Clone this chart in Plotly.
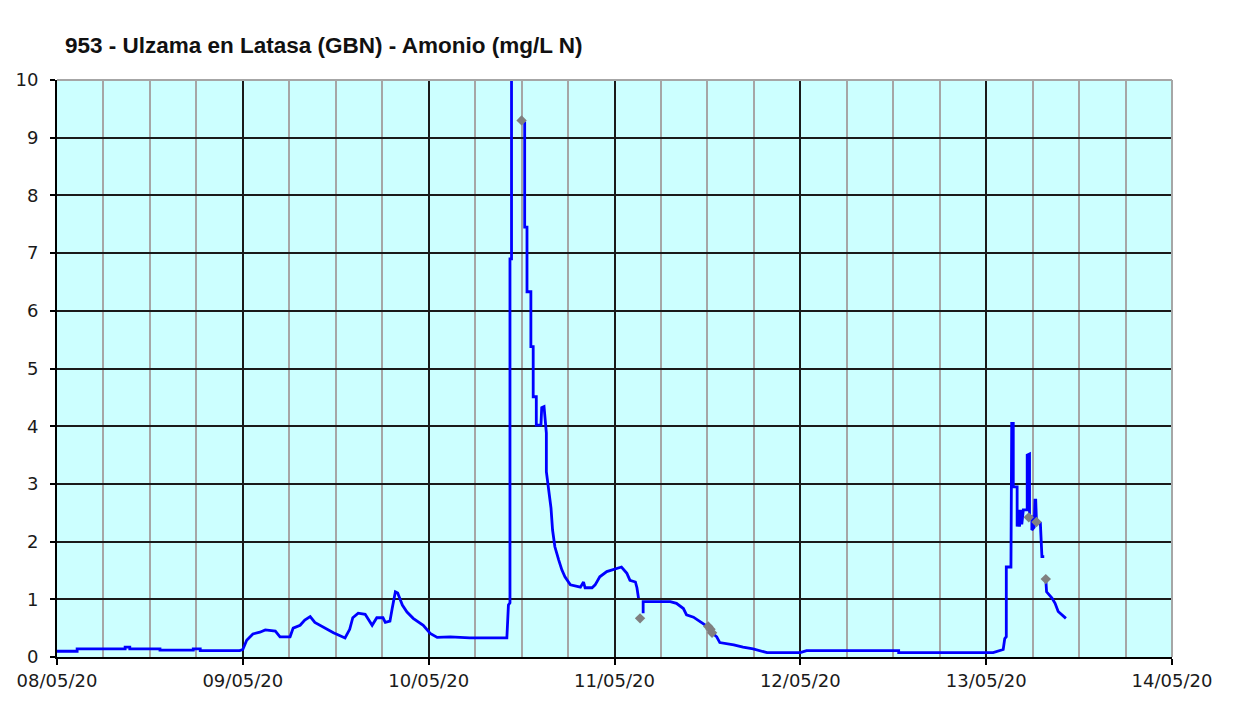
import pandas as pd
import plotly.graph_objects as go

start_date = "2020-05-08"

# Ammonium series (hours since 08/05/20 00:00, mg/L N); None = gap
hours = [
    0, 2.6, 2.6, 8.8, 8.8, 9.4, 9.4, 13.3, 13.3, 17.6, 17.6, 18.5, 18.5, 23.6,
    24.0, 24.5, 25.3, 26.2, 26.9, 28.2, 28.8, 30.1, 30.5, 31.4, 32.0, 32.7, 33.3,
    34.6, 35.7, 37.2, 37.8, 38.2, 38.9, 39.8, 40.7, 41.3, 42.1, 42.4, 43.0, 43.3,
    43.7, 44.0, 44.6, 45.2, 46.0, 47.3, 48.2, 49.1, 50.8, 53.3, 58.1, 58.3, 58.5,
    58.5, 58.7, 58.7, 59.9, None,
    60.4, 60.4, 60.7, 60.7, 61.2, 61.2, 61.5, 61.5, 61.9, 61.9, 62.5, 62.6, 62.9,
    63.2, 63.2, 63.8, 64.0, 64.3, 64.8, 65.2, 65.6, 66.3, 67.6, 68.0, 68.2, 69.1,
    69.5, 70.1, 71.0, 72.3, 72.9, 73.6, 74.0, 74.7, 74.9, 75.1, None,
    75.7, 75.7, 79.2, 80.0, 80.9, 81.3, 82.2, 83.1, 84.1, 84.6, 85.2, 85.6, 87.4,
    88.6, 89.9, 91.7, 96.0, 96.8, 108.7, 108.7, 120.9, 122.2, 122.4, 122.6, 122.6,
    123.2, 123.3, 123.5, 123.5, 124.0, 124.0, 124.2, 124.3, 124.5, 124.6, 124.8,
    125.3, 125.3, 125.6, 125.6, 125.9, 125.9, 126.2, 126.3, 126.4, 126.5, 127.0,
    127.2, 127.5, None,
    127.7, 127.8, 128.5, 128.9, 129.3, 129.8, 130.3,
]
values = [
    0.10, 0.10, 0.14, 0.14, 0.17, 0.17, 0.14, 0.14, 0.12, 0.12, 0.14, 0.14, 0.11, 0.11,
    0.13, 0.29, 0.40, 0.43, 0.47, 0.45, 0.35, 0.35, 0.50, 0.55, 0.64, 0.70, 0.60,
    0.50, 0.42, 0.33, 0.48, 0.68, 0.76, 0.74, 0.55, 0.68, 0.68, 0.60, 0.62, 0.85,
    1.13, 1.11, 0.90, 0.78, 0.67, 0.55, 0.41, 0.34, 0.35, 0.33, 0.33, 0.90, 0.94,
    6.90, 6.90, 10.05, 10.05, None,
    9.28, 7.45, 7.45, 6.33, 6.33, 5.38, 5.38, 4.51, 4.51, 4.02, 4.02, 4.32, 4.34,
    3.88, 3.21, 2.58, 2.20, 1.91, 1.68, 1.51, 1.39, 1.25, 1.21, 1.30, 1.20, 1.20,
    1.25, 1.39, 1.48, 1.54, 1.56, 1.45, 1.33, 1.30, 1.20, 1.02, None,
    0.76, 0.96, 0.96, 0.93, 0.84, 0.73, 0.69, 0.61, 0.52, 0.42, 0.35, 0.25, 0.21,
    0.17, 0.14, 0.075, 0.075, 0.11, 0.11, 0.075, 0.075, 0.13, 0.32, 0.35, 1.56,
    1.56, 4.05, 4.05, 2.95, 2.95, 2.26, 2.55, 2.26, 2.55, 2.30, 2.55,
    2.55, 3.50, 3.52, 2.43, 2.43, 2.20, 2.25, 2.72, 2.72, 2.34, 2.32,
    1.74, 1.74, None,
    1.35, 1.13, 1.02, 0.93, 0.79, 0.73, 0.67,
]

# Flagged samples (grey diamonds)
flag_hours = [60.0, 75.3, 84.1, 84.4, 84.6, 125.5, 126.5, 127.7]
flag_values = [9.30, 0.67, 0.53, 0.48, 0.42, 2.42, 2.34, 1.35]

x_tick_labels = ["08/05/20", "09/05/20", "10/05/20", "11/05/20",
                 "12/05/20", "13/05/20", "14/05/20"]

base = pd.Timestamp(start_date)
times = [None if h is None else base + pd.Timedelta(hours=h) for h in hours]
flag_times = [base + pd.Timedelta(hours=h) for h in flag_hours]
tick_dates = [base + pd.Timedelta(days=i) for i in range(len(x_tick_labels))]

# page body has an 8px default margin -> figure is 1232x693
W, H = 1232, 693

fig = go.Figure()
fig.add_trace(go.Scatter(
    x=times, y=values, mode="lines",
    line=dict(color="#0000FF", width=2.8),
    connectgaps=False, showlegend=False,
))
fig.add_trace(go.Scatter(
    x=flag_times, y=flag_values, mode="markers",
    marker=dict(symbol="diamond", color="#808080", size=8),
    showlegend=False,
))

fig.update_layout(
    width=W, height=H,
    margin=dict(l=49, r=68, t=72, b=44),
    paper_bgcolor="white",
    plot_bgcolor="#CCFFFF",
    title=dict(
        text="<b>953 - Ulzama en Latasa (GBN) - Amonio (mg/L N)</b>",
        x=57 / W, xanchor="left", xref="container",
        y=1 - 37 / H, yanchor="middle", yref="container",
        font=dict(family="Liberation Sans, Arial", size=22.5, color="#111111"),
    ),
    font=dict(family="DejaVu Sans, Verdana", color="black"),
)

fig.update_xaxes(
    type="date", automargin=False,
    range=[tick_dates[0], tick_dates[-1]],
    tickvals=tick_dates, ticktext=x_tick_labels,
    showgrid=True, gridcolor="#1a1a1a", gridwidth=2,
    minor=dict(dtick=6 * 3600 * 1000, tick0=tick_dates[0], showgrid=True,
               gridcolor="#A6A6A6", gridwidth=2, ticks=""),
    showline=True, linecolor="black", linewidth=2,
    ticks="outside", ticklen=6, tickcolor="black", tickwidth=2,
    tickfont=dict(size=18, family="DejaVu Sans, Verdana", color="#1a1a1a"),
    zeroline=False,
)
fig.update_yaxes(
    range=[0, 10], dtick=1, tick0=0, automargin=False,
    showgrid=True, gridcolor="#1a1a1a", gridwidth=2,
    showline=True, linecolor="black", linewidth=2,
    ticks="outside", ticklen=5, tickcolor="black", tickwidth=2,
    ticklabelstandoff=8,
    tickfont=dict(size=18, family="DejaVu Sans, Verdana", color="#1a1a1a"),
    zeroline=False,
)

fig.add_shape(type="line", xref="paper", yref="paper", x0=0, x1=1, y0=1, y1=1,
              line=dict(color="#A6A6A6", width=2), layer="above")
fig.add_shape(type="line", xref="paper", yref="paper", x0=1, x1=1, y0=0, y1=1,
              line=dict(color="#A6A6A6", width=2), layer="above")

fig.write_html("out.html")
